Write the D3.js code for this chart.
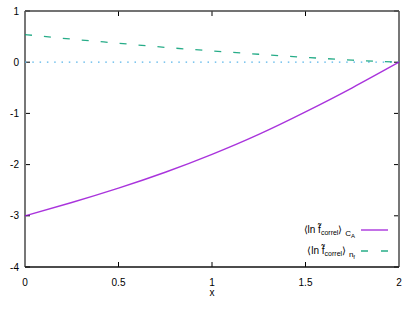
<!DOCTYPE html>
<html><head><meta charset="utf-8">
<script src="https://cdn.jsdelivr.net/npm/d3@7"></script>
<style>
body{margin:0;background:#fff;}
text{font-family:"Liberation Sans",Arial,sans-serif;font-size:10px;fill:#000;}
</style></head>
<body><svg id="c" width="415" height="312"></svg>
<script>
const xs = [0, 0.25, 0.5, 0.75, 1, 1.25, 1.5, 1.75, 2];
const cA = [-3, -2.74, -2.46, -2.15, -1.80, -1.41, -0.97, -0.50, 0];
const nf = [0.54, 0.45, 0.37, 0.29, 0.22, 0.155, 0.095, 0.04, 0];
const zeroLine = [0, 0];
const zeroX = [0, 2];
const xTicks = [0, 0.5, 1, 1.5, 2];
const xTickLabels = ["0", "0.5", "1", "1.5", "2"];
const yTicks = [-4, -3, -2, -1, 0, 1];
const yTickLabels = ["-4", "-3", "-2", "-1", "0", "1"];

const svg = d3.select("#c");
const L = 25, R = 399, T = 11, B = 267;
const x = d3.scaleLinear().domain([0, 2]).range([L, R]);
const y = d3.scaleLinear().domain([-4, 1]).range([B, T]);

// ticks
const tl = 5;
xTicks.forEach((v, i) => {
  svg.append("line").attr("x1", x(v)).attr("x2", x(v)).attr("y1", B).attr("y2", B - tl).attr("stroke", "#000");
  svg.append("line").attr("x1", x(v)).attr("x2", x(v)).attr("y1", T).attr("y2", T + tl).attr("stroke", "#000");
  svg.append("text").attr("x", x(v)).attr("y", 286).attr("text-anchor", "middle").text(xTickLabels[i]);
});
yTicks.forEach((v, i) => {
  svg.append("line").attr("x1", L).attr("x2", L + tl).attr("y1", y(v)).attr("y2", y(v)).attr("stroke", "#000");
  svg.append("line").attr("x1", R).attr("x2", R - tl).attr("y1", y(v)).attr("y2", y(v)).attr("stroke", "#000");
  svg.append("text").attr("x", 19).attr("y", y(v) + 3.5).attr("text-anchor", "end").text(yTickLabels[i]);
});

// border
svg.append("line").attr("x1", L).attr("x2", L).attr("y1", T).attr("y2", B).attr("stroke", "#777").attr("stroke-width", 2);
svg.append("line").attr("x1", R).attr("x2", R).attr("y1", T).attr("y2", B).attr("stroke", "#777").attr("stroke-width", 2);
svg.append("line").attr("x1", L).attr("x2", R).attr("y1", T).attr("y2", T).attr("stroke", "#444").attr("stroke-width", 1.5);
svg.append("line").attr("x1", L).attr("x2", R).attr("y1", B).attr("y2", B).attr("stroke", "#111").attr("stroke-width", 1.5);

svg.append("text").attr("x", x(1)).attr("y", 296).attr("text-anchor", "middle").text("x");

const line = d3.line().x(d => x(d[0])).y(d => y(d[1])).curve(d3.curveNatural);

// zero dotted line
svg.append("path").attr("d", line(zeroX.map((v, i) => [v, zeroLine[i]])))
  .attr("fill", "none").attr("stroke", "#56b4e9").attr("stroke-width", 1.3).attr("stroke-dasharray", "1.5,5.8");

svg.append("path").attr("d", line(xs.map((v, i) => [v, nf[i]])))
  .attr("fill", "none").attr("stroke", "#009e73").attr("stroke-opacity", 0.85).attr("stroke-width", 1.3).attr("stroke-dasharray", "7,12");

svg.append("path").attr("d", line(xs.map((v, i) => [v, cA[i]])))
  .attr("fill", "none").attr("stroke", "#9400d3").attr("stroke-opacity", 0.8).attr("stroke-width", 1.4);

// legend
function legText(yy, sub1, sub2) {
  const t = svg.append("text").attr("x", 355).attr("y", yy).attr("text-anchor", "end");
  t.append("tspan").text("\u27e8ln f\u0303");
  t.append("tspan").attr("font-size", "7px").attr("dy", 2).text("correl");
  t.append("tspan").attr("dy", -2).text("\u27e9 ");
  t.append("tspan").attr("font-size", "8px").attr("dy", 3).text(sub1);
  t.append("tspan").attr("font-size", "6px").attr("dy", 1.5).text(sub2);
}
legText(233, "C", "A");
svg.append("line").attr("x1", 361).attr("x2", 388).attr("y1", 230).attr("y2", 230).attr("stroke", "#9400d3").attr("stroke-opacity", 0.8).attr("stroke-width", 1.4);
legText(254, "n", "f");
svg.append("line").attr("x1", 361).attr("x2", 388).attr("y1", 251).attr("y2", 251).attr("stroke", "#009e73").attr("stroke-opacity", 0.85).attr("stroke-width", 1.3).attr("stroke-dasharray", "7,13");
</script></body></html>
